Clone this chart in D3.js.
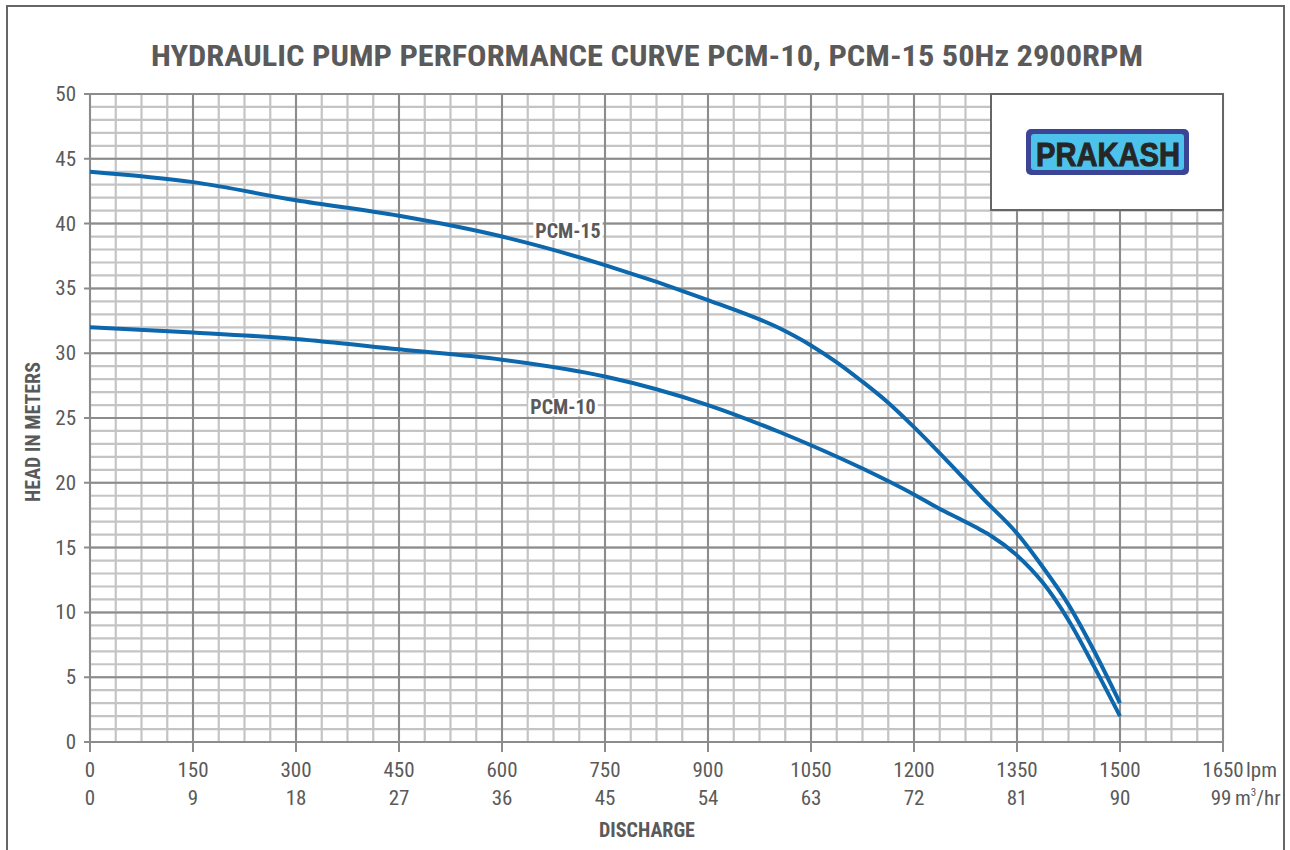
<!DOCTYPE html>
<html><head><meta charset="utf-8">
<script src="https://cdn.jsdelivr.net/npm/d3@7"></script>
<style>body{margin:0;background:#fff}svg{display:block}</style>
</head><body>
<svg id="c" width="1290" height="850"></svg>
<script>
const lpmTicks = [0,150,300,450,600,750,900,1050,1200,1350,1500,1650];
const m3hrTicks = [0,9,18,27,36,45,54,63,72,81,90,99];
const headTicks = [0,5,10,15,20,25,30,35,40,45,50];
const pcm15Flow = [0,150,300,450,600,750,900,1005,1050,1087.5,1125,1162,1200,1250,1300,1350,1387.5,1425,1462.5,1500];
const pcm15Head = [44,43.2,41.8,40.6,39.0,36.8,34.1,31.9,30.6,29.3,27.8,26.2,24.3,21.6,18.8,16.1,13.5,10.6,7.0,3.0];
const pcm10Flow = [0,150,300,450,600,750,900,1005,1050,1125,1200,1237,1267,1296,1312.5,1350,1387.5,1425,1462.5,1500];
const pcm10Head = [32,31.6,31.1,30.3,29.5,28.2,26.0,23.9,22.9,21.1,19.1,18.0,17.2,16.4,15.9,14.4,12.3,9.4,5.8,2.0];

const svg = d3.select("#c");
const F = "'Liberation Sans Narrow','Roboto Condensed','Arial Narrow',Roboto,sans-serif";
const gray = "#5a5a5a";
const x = d3.scaleLinear().domain([0,1650]).range([90,1223]);
const y = d3.scaleLinear().domain([0,50]).range([742,94]);

svg.append("rect").attr("x",7).attr("y",6).attr("width",1277).attr("height",850).attr("fill","#fff").attr("stroke","#666").attr("stroke-width",2);

svg.append("text").attr("x",647).attr("y",66).attr("text-anchor","middle").attr("font-family",F)
  .attr("font-weight","bold").attr("font-size",29).attr("fill",gray)
  .attr("textLength",992).attr("lengthAdjust","spacingAndGlyphs")
  .text("HYDRAULIC PUMP PERFORMANCE CURVE PCM-10, PCM-15 50Hz 2900RPM");

// grid
const g = svg.append("g");
const minorX = d3.range(0,1650.1,37.5), minorY = d3.range(0,50.1,1);
g.selectAll(".vx").data(minorX).enter().append("line")
  .attr("x1",d=>x(d)).attr("x2",d=>x(d)).attr("y1",y(50)).attr("y2",y(0))
  .attr("stroke","#c4c4c4").attr("stroke-width",2.2);
g.selectAll(".hy").data(minorY).enter().append("line")
  .attr("y1",d=>y(d)).attr("y2",d=>y(d)).attr("x1",x(0)).attr("x2",x(1650))
  .attr("stroke","#c4c4c4").attr("stroke-width",2.2);
g.selectAll(".vmaj").data(lpmTicks).enter().append("line")
  .attr("x1",d=>x(d)).attr("x2",d=>x(d)).attr("y1",y(50)).attr("y2",y(0)+10)
  .attr("stroke","#8c8c8c").attr("stroke-width",2);
g.selectAll(".hmaj").data(headTicks).enter().append("line")
  .attr("y1",d=>y(d)).attr("y2",d=>y(d)).attr("x1",x(0)-6).attr("x2",x(1650))
  .attr("stroke","#8c8c8c").attr("stroke-width",2);

// y labels
svg.selectAll(".yl").data(headTicks).enter().append("text")
  .attr("x",76).attr("y",d=>y(d)+7).attr("text-anchor","end").attr("font-family",F)
  .attr("font-size",21).attr("fill",gray).text(d=>d);
// x labels
svg.selectAll(".xl").data(lpmTicks).enter().append("text")
  .attr("x",d=>x(d)).attr("y",777).attr("text-anchor","middle").attr("font-family",F)
  .attr("font-size",21).attr("fill",gray).text(d=>d);
svg.selectAll(".xm").data(m3hrTicks).enter().append("text")
  .attr("x",(d,i)=>x(d/0.06)-(i===m3hrTicks.length-1?2:0)).attr("y",805).attr("text-anchor","middle").attr("font-family",F)
  .attr("font-size",21).attr("fill",gray).text(d=>d);
svg.append("text").attr("x",1246).attr("y",777).attr("font-family",F).attr("font-size",21).attr("fill",gray).text("lpm");
const mt = svg.append("text").attr("x",1235).attr("y",805).attr("font-family",F).attr("font-size",21).attr("fill",gray);
mt.append("tspan").text("m");
mt.append("tspan").attr("font-size",11).attr("dy",-9).text("3");
mt.append("tspan").attr("dy",9).text("/hr");

svg.append("text").attr("x",647).attr("y",837).attr("text-anchor","middle").attr("font-family",F)
  .attr("font-weight","bold").attr("font-size",20).attr("fill",gray).text("DISCHARGE");
svg.append("text").attr("transform","translate(40,432) rotate(-90)").attr("text-anchor","middle").attr("font-family",F)
  .attr("font-weight","bold").attr("font-size",20).attr("fill",gray).text("HEAD IN METERS");

// curves
const line = d3.line().x(d=>x(d[0])).y(d=>y(d[1])).curve(d3.curveMonotoneX);
[[pcm15Flow,pcm15Head],[pcm10Flow,pcm10Head]].forEach(([f,h])=>{
  svg.append("path").attr("d",line(d3.zip(f,h))).attr("fill","none").attr("stroke","#0d67ad").attr("stroke-width",4);
});

// curve labels
function lab(t,cx,cy){
  const tx = svg.append("text").attr("x",cx).attr("y",cy).attr("text-anchor","middle").attr("font-family",F)
    .attr("font-weight","bold").attr("font-size",20).attr("fill",gray).text(t);
  const b = tx.node().getBBox();
  svg.insert("rect","text:last-of-type").attr("x",b.x-2).attr("y",b.y+3).attr("width",b.width+4).attr("height",b.height-6).attr("fill","#fff");
  tx.raise();
}
lab("PCM-15",568,238);
lab("PCM-10",563,414);

// logo box
svg.append("rect").attr("x",991).attr("y",94).attr("width",232).attr("height",116).attr("fill","#fff").attr("stroke","#666").attr("stroke-width",2);
svg.append("rect").attr("x",1026).attr("y",129).attr("width",163).attr("height",46).attr("rx",5).attr("fill","#3b4596");
svg.append("rect").attr("x",1031).attr("y",134).attr("width",153).attr("height",36).attr("rx",3).attr("fill","#4dc3ec");
svg.append("text").attr("x",1108).attr("y",166).attr("text-anchor","middle").attr("font-family","'Liberation Sans',Arial,sans-serif")
  .attr("font-weight","bold").attr("font-size",34).attr("fill","#262626").attr("stroke","#262626").attr("stroke-width",1)
  .attr("textLength",144).attr("lengthAdjust","spacingAndGlyphs").text("PRAKASH");
</script>
</body></html>
